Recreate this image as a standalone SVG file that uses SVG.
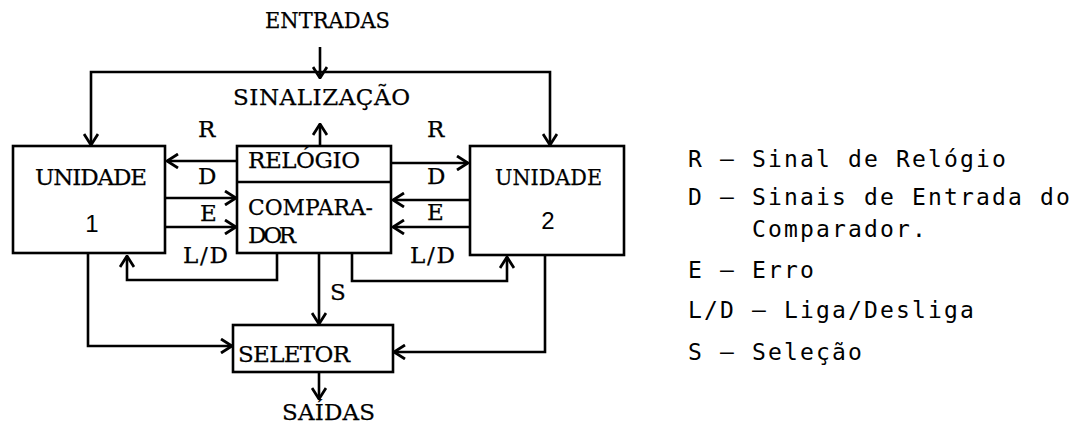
<svg xmlns="http://www.w3.org/2000/svg" width="1087" height="427" viewBox="0 0 1087 427">
<style>
.bg{fill:#fff}
.box{fill:none;stroke:#000;stroke-width:2.6;stroke-linejoin:miter}
.ln{fill:none;stroke:#000;stroke-width:2.6;stroke-linejoin:miter}
.arr{marker-end:url(#ah)}
.t{font-family:"DejaVu Serif","Liberation Serif",serif;font-size:23px;fill:#000;stroke:#000;stroke-width:0.25}
.n{font-family:"Liberation Sans",Arial,sans-serif;font-size:24px;fill:#000;text-anchor:middle}
.lg{font-family:"DejaVu Sans Mono",monospace;font-size:23px;letter-spacing:2.15px;fill:#000}
</style>
<defs>
<marker id="ah" viewBox="0 0 13 16" refX="12" refY="8" markerWidth="13" markerHeight="16" markerUnits="userSpaceOnUse" orient="auto">
<path d="M1,1 L12,8 L1,15" fill="none" stroke="#000" stroke-width="2.8"/>
</marker>
</defs>
<rect class="bg" x="0" y="0" width="1087" height="427"/>

<g id="entradas"><text class="t" x="265" y="28" textLength="125" lengthAdjust="spacingAndGlyphs">ENTRADAS</text></g>
<g id="sinalizacao"><text class="t" x="233" y="105" textLength="177" lengthAdjust="spacing">SINALIZAÇÃO</text></g>

<g id="unidade1">
<rect class="box" x="13" y="146" width="152" height="107"/>
<text class="t" x="35" y="185" textLength="112" lengthAdjust="spacing">UNIDADE</text>
<text class="n" x="92" y="232">1</text>
</g>

<g id="relogio-comparador">
<rect class="box" x="237" y="146" width="154" height="107"/>
<line class="ln" x1="237" y1="182" x2="391" y2="182"/>
<text class="t" x="248" y="168" textLength="112" lengthAdjust="spacing">RELÓGIO</text>
<text class="t" x="248" y="215" textLength="125" lengthAdjust="spacingAndGlyphs">COMPARA-</text>
<text class="t" x="248" y="243" textLength="48" lengthAdjust="spacing">DOR</text>
</g>

<g id="unidade2">
<rect class="box" x="470" y="146" width="154" height="109"/>
<text class="t" x="495" y="185" textLength="107" lengthAdjust="spacingAndGlyphs">UNIDADE</text>
<text class="n" x="548" y="229">2</text>
</g>

<g id="seletor">
<rect class="box" x="233" y="325" width="160" height="47"/>
<text class="t" x="238" y="362" textLength="112" lengthAdjust="spacing">SELETOR</text>
</g>

<g id="saidas"><text class="t" x="282" y="420" textLength="93" lengthAdjust="spacing">SAÍDAS</text></g>

<g id="connectors">
<path class="ln arr" d="M320,47 V78"/>
<path class="ln arr" d="M320,72 H91 V145"/>
<path class="ln arr" d="M320,72 H550 V145"/>
<path class="ln arr" d="M320,146 V124"/>
<path class="ln arr" d="M237,161 H167"/>
<path class="ln arr" d="M165,198 H236"/>
<path class="ln arr" d="M165,227 H236"/>
<path class="ln arr" d="M391,163 H468"/>
<path class="ln arr" d="M470,200 H393"/>
<path class="ln arr" d="M470,227 H393"/>
<path class="ln arr" d="M277,253 V280 H127 V256"/>
<path class="ln arr" d="M352,253 V281 H507 V257"/>
<path class="ln arr" d="M319,253 V324"/>
<path class="ln arr" d="M88,253 V346 H232"/>
<path class="ln arr" d="M545,255 V352 H394"/>
<path class="ln arr" d="M319,372 V399"/>
<text class="t" x="198" y="137">R</text>
<text class="t" x="427" y="137">R</text>
<text class="t" x="198" y="184">D</text>
<text class="t" x="427" y="184">D</text>
<text class="t" x="200" y="221">E</text>
<text class="t" x="427" y="220">E</text>
<text class="t" x="183" y="263" textLength="45" lengthAdjust="spacing">L/D</text>
<text class="t" x="410" y="263" textLength="45" lengthAdjust="spacing">L/D</text>
<text class="t" x="330" y="300">S</text>
</g>

<g id="legenda">
<text class="lg" x="688" y="167">R – Sinal de Relógio</text>
<text class="lg" x="688" y="205">D – Sinais de Entrada do</text>
<text class="lg" x="752" y="237">Comparador.</text>
<text class="lg" x="688" y="278">E – Erro</text>
<text class="lg" x="688" y="318">L/D – Liga/Desliga</text>
<text class="lg" x="688" y="360">S – Seleção</text>
</g>
</svg>
